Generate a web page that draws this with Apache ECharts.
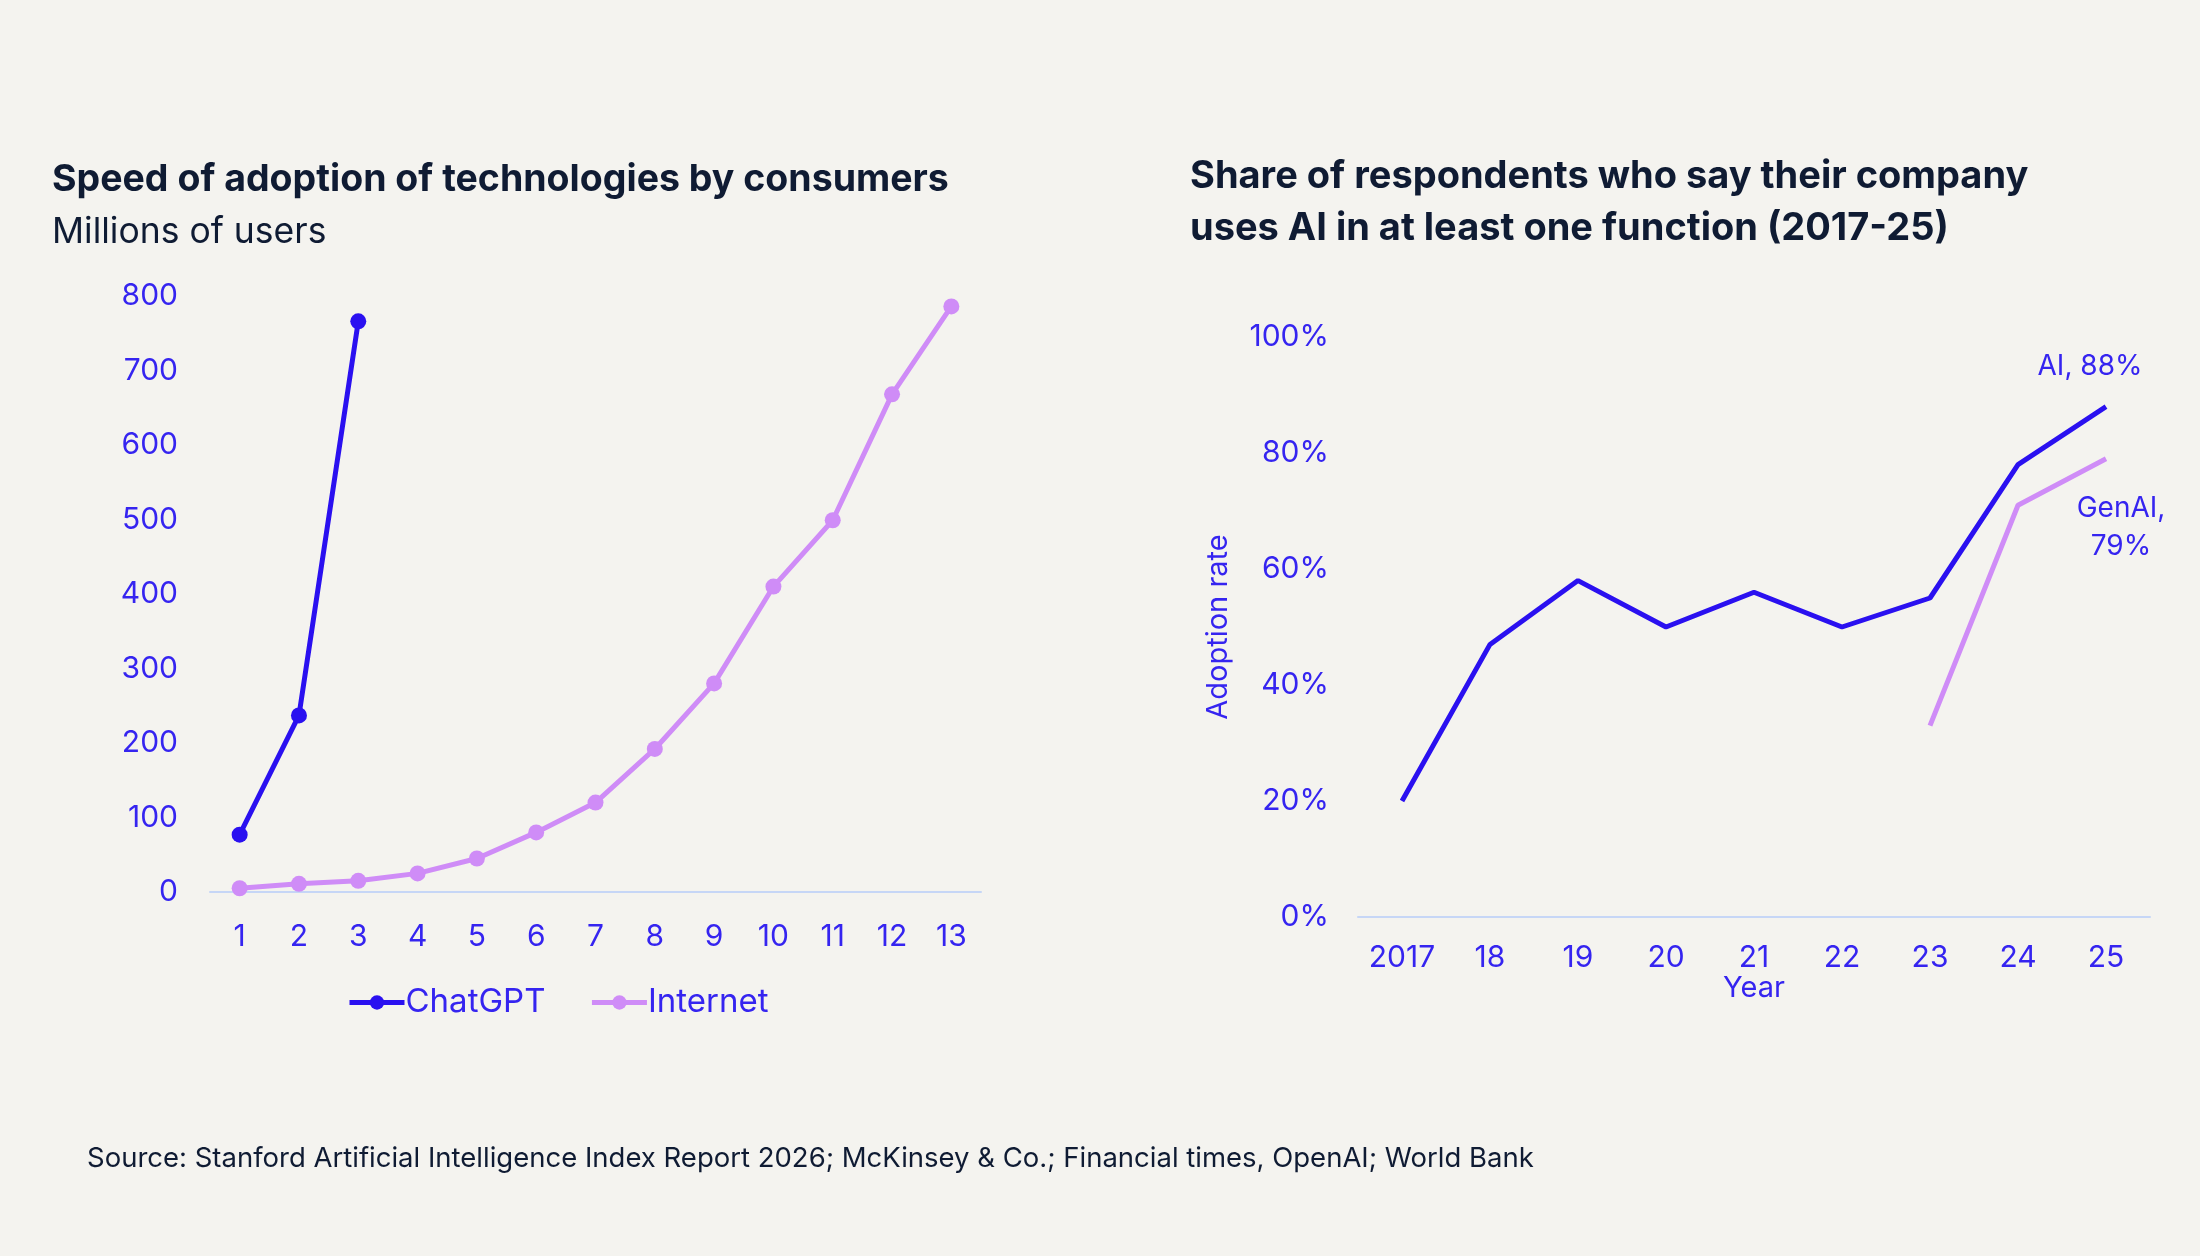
<!DOCTYPE html>
<html>
<head>
<meta charset="utf-8">
<script src="https://cdn.jsdelivr.net/npm/echarts@6/dist/echarts.min.js"></script>
<style>
  html, body { margin: 0; padding: 0; background: #f4f3ef; }
  #chart { width: 2200px; height: 1256px; }
</style>
</head>
<body>
<div id="chart"></div>
<script>
// left chart: months since launch vs millions of users
const months = ['1', '2', '3', '4', '5', '6', '7', '8', '9', '10', '11', '12', '13'];
const chatgptUsers = [77, 237, 766];
const internetUsers = [5, 11, 15, 25, 45, 80, 120, 192, 280, 410, 499, 668, 786];

// right chart: share of companies using AI
const years = ['2017', '18', '19', '20', '21', '22', '23', '24', '25'];
const aiShare = [20, 47, 58, 50, 56, 50, 55, 78, 88];
const genAiShare = [null, null, null, null, null, null, 33, 71, 79];

const font = 'Inter';
const ink = '#0f1b33';
const violet = '#3524f0';
const dark = '#2a10f0';
const light = '#cf8cf7';
const axisLine = '#c6d6f6';

const chart = echarts.init(document.getElementById('chart'));

const option = {
  backgroundColor: '#f4f3ef',
  textStyle: { fontFamily: font },
  title: [
    {
      text: 'Speed of adoption of technologies by consumers',
      left: 52, top: 161, padding: 0,
      textStyle: { fontFamily: font, fontSize: 37.5, fontWeight: 'bold', color: ink }
    },
    {
      text: 'Millions of users',
      left: 52, top: 214, padding: 0,
      textStyle: { fontFamily: font, fontSize: 35.5, fontWeight: 'normal', color: ink }
    },
    {
      text: 'Share of respondents who say their company\nuses AI in at least one function (2017-25)',
      left: 1190, top: 151, padding: 0,
      textStyle: { fontFamily: font, fontSize: 38, fontWeight: 'bold', color: ink, lineHeight: 52 }
    },
    {
      text: 'Source: Stanford Artificial Intelligence Index Report 2026; McKinsey & Co.; Financial times, OpenAI; World Bank',
      left: 87, top: 1145, padding: 0,
      textStyle: { fontFamily: font, fontSize: 27.5, fontWeight: 'normal', color: ink }
    }
  ],
  legend: {
    left: 342, top: 981,
    itemWidth: 55, itemHeight: 18, itemGap: 44,
    data: ['ChatGPT', 'Internet'],
    lineStyle: { width: 5 },
    textStyle: { fontFamily: font, fontSize: 33, color: violet, padding: [0, 0, 0, -4] }
  },
  grid: [
    { left: 210, right: 1219, top: 296, bottom: 364 },
    { left: 1358, right: 50, top: 337, bottom: 339 }
  ],
  xAxis: [
    {
      type: 'category', gridIndex: 0, data: months, boundaryGap: true,
      axisLine: { lineStyle: { color: axisLine, width: 2 } },
      axisTick: { show: false },
      axisLabel: { color: violet, fontSize: 30, margin: 30, fontFamily: font }
    },
    {
      type: 'category', gridIndex: 1, data: years, boundaryGap: true,
      name: 'Year', nameLocation: 'middle', nameGap: 57,
      nameTextStyle: { color: violet, fontSize: 29, fontFamily: font },
      axisLine: { lineStyle: { color: axisLine, width: 2 } },
      axisTick: { show: false },
      axisLabel: { color: violet, fontSize: 30, margin: 26, fontFamily: font }
    }
  ],
  yAxis: [
    {
      type: 'value', gridIndex: 0, min: 0, max: 800, interval: 100,
      axisLine: { show: false }, axisTick: { show: false }, splitLine: { show: false },
      axisLabel: { color: violet, fontSize: 30, margin: 32, fontFamily: font }
    },
    {
      type: 'value', gridIndex: 1, min: 0, max: 100, interval: 20,
      name: 'Adoption rate', nameLocation: 'middle', nameGap: 125,
      nameTextStyle: { color: violet, fontSize: 29, fontFamily: font },
      axisLine: { show: false }, axisTick: { show: false }, splitLine: { show: false },
      axisLabel: { color: violet, fontSize: 30, margin: 29, fontFamily: font, formatter: '{value}%' }
    }
  ],
  series: [
    {
      name: 'ChatGPT', type: 'line', xAxisIndex: 0, yAxisIndex: 0,
      data: chatgptUsers,
      symbol: 'circle', symbolSize: 16,
      lineStyle: { color: dark, width: 5 },
      itemStyle: { color: dark }
    },
    {
      name: 'Internet', type: 'line', xAxisIndex: 0, yAxisIndex: 0,
      data: internetUsers,
      symbol: 'circle', symbolSize: 16,
      lineStyle: { color: light, width: 5 },
      itemStyle: { color: light }
    },
    {
      name: 'AI', type: 'line', xAxisIndex: 1, yAxisIndex: 1,
      data: aiShare,
      showSymbol: false, symbol: 'none',
      lineStyle: { color: dark, width: 5 },
      itemStyle: { color: dark },
      endLabel: {
        show: true, distance: 0, offset: [-16, -40],
        align: 'center', verticalAlign: 'middle',
        formatter: '{a}, {c}%', color: violet, fontSize: 28, fontFamily: font
      }
    },
    {
      name: 'GenAI', type: 'line', xAxisIndex: 1, yAxisIndex: 1,
      data: genAiShare,
      showSymbol: false, symbol: 'none',
      lineStyle: { color: light, width: 5 },
      itemStyle: { color: light },
      endLabel: {
        show: true, distance: 0, offset: [15, 69],
        align: 'center', verticalAlign: 'middle',
        formatter: '{a},\n{c}%', color: violet, fontSize: 28, lineHeight: 38, fontFamily: font
      }
    }
  ]
};

chart.setOption(option);
</script>
</body>
</html>
